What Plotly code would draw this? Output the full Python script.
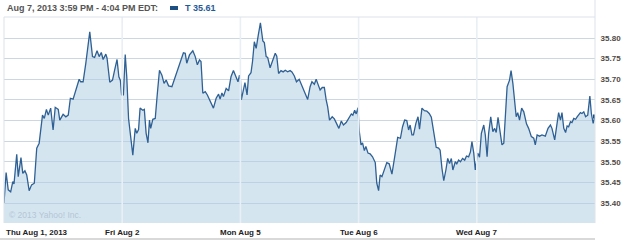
import plotly.graph_objects as go

# ---------------- data ----------------
day_labels = ["Thu Aug 1, 2013", "Fri Aug 2", "Mon Aug 5", "Tue Aug 6", "Wed Aug 7"]
session_minutes = 390  # 9:30 - 16:00

d1_min = [0, 7, 14, 22, 29, 33, 42, 47, 56, 62, 69, 75, 83, 91, 100, 108, 116, 127, 133, 140,
          146, 154, 162, 169, 179, 184, 195, 204, 212, 219, 228, 239, 248, 253, 261, 270, 277, 283, 292, 299,
          307, 314, 321, 327, 336, 340, 349, 358, 365, 373, 379, 384, 388]
d1_px = [35.400, 35.474, 35.432, 35.427, 35.452, 35.446, 35.518, 35.464, 35.510, 35.472,
         35.478, 35.468, 35.430, 35.444, 35.448, 35.533, 35.545, 35.613, 35.605, 35.627,
         35.613, 35.630, 35.577, 35.632, 35.627, 35.601, 35.615, 35.609, 35.613, 35.654,
         35.652, 35.678, 35.700, 35.694, 35.694, 35.739, 35.787, 35.815, 35.755, 35.753,
         35.769, 35.755, 35.765, 35.748, 35.761, 35.751, 35.693, 35.698, 35.722, 35.748,
         35.706, 35.697, 35.662]

d2_min = [4, 10, 15, 21, 29, 35, 43, 48, 54, 59, 68, 73, 79, 85, 90, 94, 101, 109, 116, 123,
          131, 138, 145, 153, 164, 175, 186, 193, 202, 208, 213, 222, 233, 241, 248, 255, 260, 266, 274, 281,
          288, 296, 301, 310, 318, 323, 329, 334, 343, 351, 359, 367, 376, 382, 387, 390]
d2_px = [35.662, 35.760, 35.706, 35.605, 35.561, 35.516, 35.581, 35.569, 35.578, 35.630,
         35.625, 35.627, 35.569, 35.546, 35.601, 35.581, 35.603, 35.605, 35.666, 35.722,
         35.710, 35.690, 35.698, 35.684, 35.682, 35.706, 35.727, 35.740, 35.764, 35.763,
         35.739, 35.759, 35.769, 35.755, 35.735, 35.747, 35.743, 35.666, 35.670, 35.662,
         35.651, 35.642, 35.630, 35.654, 35.664, 35.652, 35.667, 35.658, 35.678, 35.672,
         35.706, 35.721, 35.706, 35.694, 35.710, 35.700]

d3_min = [3, 10, 15, 22, 27, 35, 40, 46, 52, 59, 66, 74, 79, 85, 90, 98, 106, 115, 120, 126,
          134, 141, 148, 156, 164, 170, 178, 185, 194, 200, 207, 214, 222, 230, 236, 244, 250, 255, 263, 270,
          277, 283, 288, 294, 303, 310, 318, 325, 333, 340, 349, 358, 366, 371, 377, 382, 388]
d3_px = [35.650, 35.678, 35.692, 35.662, 35.708, 35.716, 35.743, 35.791, 35.775, 35.807,
         35.837, 35.793, 35.789, 35.755, 35.753, 35.728, 35.747, 35.763, 35.756, 35.714,
         35.721, 35.718, 35.722, 35.718, 35.721, 35.718, 35.708, 35.694, 35.700, 35.690,
         35.674, 35.666, 35.651, 35.682, 35.694, 35.688, 35.700, 35.690, 35.674, 35.680,
         35.680, 35.650, 35.633, 35.601, 35.609, 35.604, 35.593, 35.581, 35.599, 35.589,
         35.595, 35.605, 35.616, 35.613, 35.625, 35.616, 35.631]

d4_min = [2, 8, 13, 19, 24, 31, 38, 46, 55, 60, 66, 71, 77, 86, 93, 101, 110, 121, 129, 138,
          145, 152, 159, 165, 170, 176, 181, 189, 196, 201, 209, 217, 225, 233, 240, 245, 250, 256, 264, 269,
          275, 281, 288, 294, 300, 306, 311, 319, 324, 330, 336, 343, 350, 356, 363, 369, 374, 380, 385]
d4_px = [35.575, 35.541, 35.546, 35.527, 35.537, 35.521, 35.519, 35.512, 35.498, 35.448,
         35.430, 35.468, 35.464, 35.482, 35.498, 35.495, 35.470, 35.521, 35.559, 35.557,
         35.585, 35.601, 35.600, 35.577, 35.589, 35.565, 35.565, 35.593, 35.609, 35.579,
         35.630, 35.624, 35.623, 35.617, 35.608, 35.585, 35.565, 35.535, 35.533, 35.528,
         35.484, 35.454, 35.480, 35.508, 35.496, 35.508, 35.480, 35.500, 35.495, 35.504,
         35.500, 35.508, 35.504, 35.514, 35.512, 35.524, 35.549, 35.521, 35.480]

d5_min = [3, 9, 15, 23, 28, 34, 39, 46, 53, 59, 64, 70, 78, 83, 89, 95, 100, 108, 113, 119,
          125, 130, 135, 141, 148, 155, 164, 171, 180, 188, 193, 199, 207, 215, 226, 235, 243, 248, 257, 265,
          270, 276, 281, 287, 293, 298, 303, 309, 314, 320, 326, 331, 336, 342, 347, 353, 359, 366, 373, 378,
          384, 390]
d5_px = [35.521, 35.511, 35.569, 35.589, 35.565, 35.512, 35.569, 35.609, 35.573, 35.581,
         35.571, 35.608, 35.573, 35.541, 35.545, 35.609, 35.682, 35.698, 35.721, 35.690,
         35.638, 35.609, 35.619, 35.601, 35.630, 35.621, 35.592, 35.581, 35.561, 35.557,
         35.541, 35.565, 35.562, 35.565, 35.562, 35.581, 35.589, 35.581, 35.553, 35.601,
         35.619, 35.601, 35.619, 35.581, 35.571, 35.587, 35.585, 35.597, 35.595, 35.605,
         35.603, 35.609, 35.613, 35.619, 35.617, 35.621, 35.609, 35.613, 35.659, 35.617,
         35.593, 35.610]

y_ticks = [35.40, 35.45, 35.50, 35.55, 35.60, 35.65, 35.70, 35.75, 35.80]
header_text = "Aug 7, 2013 3:59 PM - 4:04 PM EDT:"
symbol = "T"
copyright_text = "© 2013 Yahoo! Inc."

# ---------------- build ----------------
days_min = [d1_min, d2_min, d3_min, d4_min, d5_min]
days_px = [d1_px, d2_px, d3_px, d4_px, d5_px]
xs, ys = [], []
for d, (mins, pxs) in enumerate(zip(days_min, days_px)):
    xs += [d + m / session_minutes for m in mins]
    ys += pxs

W, H = 625, 241
ML, MR, MT, MB = 4, 30, 17, 18
PW, PH = W - ML - MR, H - MT - MB


def px_x(p):
    return (p - ML) / PW


def px_y(p):
    return (H - MB - p) / PH


LINE = "#2f6094"
FILL = "rgba(172,204,226,0.5)"
GRID = "#ccd7e1"
VGRID = "#e9eff4"
BORDER = "#dde3e8"
FONT = "Liberation Sans, Arial, sans-serif"

fig = go.Figure()
fig.add_trace(go.Scatter(
    x=xs, y=ys, mode="lines", fill="tozeroy", fillcolor=FILL,
    line=dict(color=LINE, width=1.3), hoverinfo="skip", showlegend=False,
))
fig.add_trace(go.Scatter(
    x=[xs[-1]], y=[ys[-1]], mode="markers",
    marker=dict(symbol="square", size=4, color="#1d4f82"),
    hoverinfo="skip", showlegend=False,
))

shapes = []
# vertical day separators drawn above the series
for d in range(1, len(day_labels)):
    shapes.append(dict(type="line", xref="x", yref="paper", x0=d, x1=d, y0=0, y1=1,
                       line=dict(color=VGRID, width=1.6), layer="above"))
# plot frame
shapes.append(dict(type="line", xref="paper", yref="paper", x0=0, x1=1, y0=1, y1=1,
                   line=dict(color=BORDER, width=1), layer="above"))
shapes.append(dict(type="line", xref="paper", yref="paper", x0=0, x1=0, y0=0, y1=1,
                   line=dict(color=BORDER, width=1), layer="above"))
shapes.append(dict(type="line", xref="paper", yref="paper", x0=1, x1=1, y0=0, y1=px_y(0),
                   line=dict(color=BORDER, width=1), layer="above"))
# bottom rule
shapes.append(dict(type="line", xref="paper", yref="paper", x0=px_x(0), x1=1,
                   y0=px_y(239), y1=px_y(239), line=dict(color="#d9d9d9", width=2)))
# legend swatch
shapes.append(dict(type="rect", xref="paper", yref="paper", x0=px_x(170), x1=px_x(178),
                   y0=px_y(10), y1=px_y(6), fillcolor="#1d4f82", line=dict(width=0)))

annotations = []
for i, lab in enumerate(day_labels):
    annotations.append(dict(
        text=lab, xref="x", yref="paper", x=i, y=px_y(232),
        xanchor="left" if i == 0 else "center", yanchor="middle", showarrow=False,
        font=dict(family=FONT, size=8, color="#222222", weight="bold")))
annotations.append(dict(
    text=header_text, xref="paper", yref="paper", x=px_x(5), y=px_y(8.5),
    xanchor="left", yanchor="middle", showarrow=False,
    font=dict(family=FONT, size=9, color="#555555", weight="bold")))
annotations.append(dict(
    text=f"{symbol} {ys[-1]:.2f}", xref="paper", yref="paper", x=px_x(183), y=px_y(8.5),
    xanchor="left", yanchor="middle", showarrow=False,
    font=dict(family=FONT, size=9, color="#1f5a96", weight="bold")))
annotations.append(dict(
    text=copyright_text, xref="paper", yref="paper", x=px_x(7), y=px_y(215),
    xanchor="left", yanchor="middle", showarrow=False,
    font=dict(family=FONT, size=8.5, color="#b4c6d4")))

fig.update_layout(
    width=W, height=H,
    margin=dict(l=ML, r=MR, t=MT, b=MB, pad=0),
    paper_bgcolor="white", plot_bgcolor="white",
    showlegend=False,
    shapes=shapes, annotations=annotations,
    xaxis=dict(range=[0, len(day_labels)], showgrid=False, zeroline=False,
               showticklabels=False, ticks="", showline=False, fixedrange=True),
    yaxis=dict(range=[35.3515, 35.851], side="right", tickmode="array",
               tickvals=y_ticks, ticktext=[f"{v:.2f}" for v in y_ticks],
               showgrid=True, gridcolor=GRID, gridwidth=1, zeroline=False,
               ticks="outside", ticklen=3, tickcolor="rgba(0,0,0,0)",
               showline=False,
               tickfont=dict(family=FONT, size=8, color="#4f4a45", weight="bold"),
               fixedrange=True),
)

fig.write_html("out.html")
